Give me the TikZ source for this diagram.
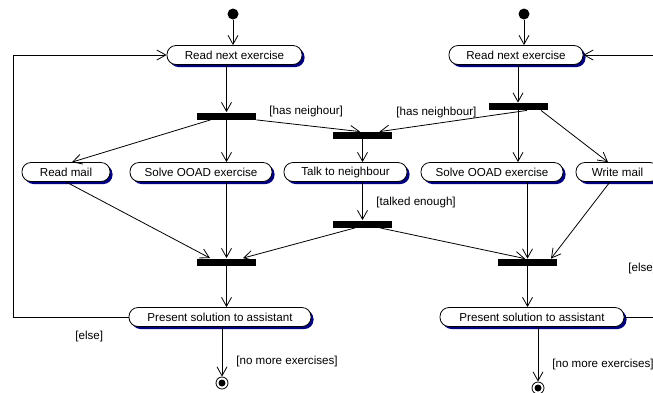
\documentclass[tikz,border=0pt]{standalone}
\usepackage{fontspec}
\setmainfont{Liberation Sans}
\usetikzlibrary{
    arrows.meta,
    shadows % for the navy shadow under each activity
}
\definecolor{umlnavy}{RGB}{0,0,128}
\newcommand\umlfont{\fontsize{11.6pt}{13pt}\selectfont}

\begin{document}
\begin{tikzpicture}[x=1pt, y=-1pt, line width=0.8pt,
    act/.style={draw, fill=white, rounded corners=9pt, minimum height=19pt,
        inner sep=0pt, font=\umlfont,
        drop shadow={shadow xshift=2.5pt, shadow yshift=-2.5pt, fill=umlnavy, opacity=1}},
    bar/.style={fill=black, minimum width=59pt, minimum height=7pt, inner sep=0pt},
    startdot/.style={circle, fill=black, minimum size=11pt, inner sep=0pt},
    finaldot/.style={circle, draw, minimum size=12pt, inner sep=0pt,
        path picture={\fill (path picture bounding box.center) circle (3.5pt);}},
    guard/.style={anchor=west, inner sep=0pt, font=\umlfont},
    flow/.style={-{Straight Barb[length=9pt, width=10pt]}}]
    \useasboundingbox (0,0) rectangle (653,392);

    % left lane
    \node[startdot] (start1) at (233,14) {};
    \node[act, minimum width=135pt] (read1) at (234.5,55) {Read next exercise};
    \node[bar] (bar1) at (226.5,116) {};
    \node[act, minimum width=88pt] (readmail) at (66,172) {Read mail};
    \node[act, minimum width=142pt] (solve1) at (201,172) {Solve OOAD exercise};
    \node[bar] (bar4) at (226.5,262) {};
    \node[act, minimum width=182pt] (present1) at (220,317) {Present solution to assistant};
    \node[finaldot] (final1) at (222,383) {};

    % middle
    \node[bar] (bar2) at (362.5,135.5) {};
    \node[act, minimum width=123pt] (talk) at (345.5,172) {Talk to neighbour};
    \node[bar] (bar5) at (362.5,224) {};

    % right lane
    \node[startdot] (start2) at (524,14) {};
    \node[act, minimum width=134pt] (read2) at (516,55) {Read next exercise};
    \node[bar] (bar3) at (518,106.5) {};
    \node[act, minimum width=142pt] (solve2) at (492,172) {Solve OOAD exercise};
    \node[act, minimum width=83pt] (writemail) at (617.5,172) {Write mail};
    \node[bar] (bar6) at (527.5,262.5) {};
    \node[act, minimum width=184pt] (present2) at (532,317) {Present solution to assistant};
    \node[finaldot] (final2) at (538,388) {};

    \coordinate (loopL) at (13,0);
    \coordinate (loopR) at (668,0);

    % guards
    \node[guard] (g1) at (269,111) {[has neighour]};
    \node[guard] (g2) at (396,112) {[has neighbour]};
    \node[guard] (g3) at (376,202) {[talked enough]};
    \node[guard] (g4) at (75,336) {[else]};
    \node[guard] (g5) at (236,361) {[no more exercises]};
    \node[guard] (g6) at (628,268) {[else]};
    \node[guard] (g7) at (552,364) {[no more exercises]};

    \draw[flow] (start1) -- (start1 |- read1.north);
    \draw[flow] (read1.south -| bar1) -- (bar1.north);
    \draw[flow] ([xshift=-16pt]bar1.south) -- ([xshift=6pt]readmail.north);
    \draw[flow] (bar1.south) -- (bar1.south |- solve1.north);
    \draw[flow] (bar1.south east) -- ([xshift=-2.5pt]bar2.north);
    \draw[flow] (readmail.south) -- ([xshift=-16.5pt]bar4.north);
    \draw[flow] (bar4.north |- solve1.south) -- (bar4.north);
    \draw[flow] ([xshift=-7.5pt]bar5.south) -- ([xshift=16.5pt]bar4.north);
    \draw[flow] (bar4.south) -- (bar4.south |- present1.north);
    \draw[flow] (present1.south -| final1) -- (final1.north);
    \draw[flow] (present1.west) -- (present1.west -| loopL) |- (read1.west);

    \draw[flow] (bar2.south) -- (bar2.south |- talk.north);
    \draw[flow] (talk.south -| bar5) -- (bar5.north);
    \draw[flow] ([xshift=17.5pt]bar5.south) -- ([xshift=-2.5pt]bar6.north);

    \draw[flow] (start2) -- (start2 |- read2.north);
    \draw[flow] (read2.south -| bar3) -- (bar3.north);
    \draw[flow] ([xshift=9pt]bar3.south) -- ([xshift=17pt]bar2.north);
    \draw[flow] (bar3.south) -- (bar3.south |- solve2.north);
    \draw[flow] ([xshift=23pt]bar3.south) -- ([xshift=-9.5pt]writemail.north);
    \draw[flow] (bar6.north |- solve2.south) -- (bar6.north);
    \draw[flow] ([xshift=-7.5pt]writemail.south) -- ([xshift=23.5pt]bar6.north);
    \draw[flow] (bar6.south) -- (bar6.south |- present2.north);
    \draw[flow] (present2.south -| final2) -- (final2.north);
    \draw[flow] (present2.east) -- (present2.east -| loopR) |- (read2.east);
\end{tikzpicture}
\end{document}
